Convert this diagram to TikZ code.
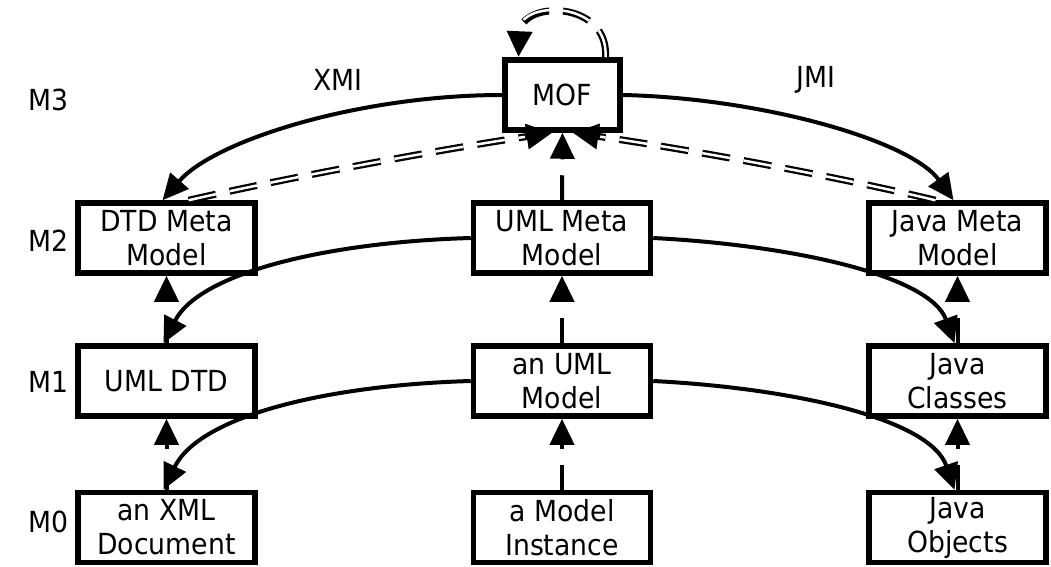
\documentclass[tikz,border=0pt]{standalone}
\usepackage{fontspec}
\setmainfont{DejaVu Sans}[FakeStretch=0.92]
\usetikzlibrary{arrows.meta}

\begin{document}
\begin{tikzpicture}[x=1pt,y=-1pt,
  font=\fontsize{29}{34}\selectfont,
  box/.style={draw, line width=5.5pt, minimum width=177pt, minimum height=70pt,
              align=center, inner sep=0pt},
  tip/.style={-{Triangle[length=26pt,width=24pt]}},
  link/.style={tip, line width=4pt},
  uplink/.style={tip, line width=4pt, dash pattern=on 25pt off 16pt},
  hollow/.style={line width=7pt, dash pattern=on 28pt off 14pt,
                 -{Triangle[length=26pt,width=24pt]}},
  hollowin/.style={white, line width=2.5pt, dash pattern=on 28pt off 14pt, shorten >=28pt},
  level/.style={anchor=west, inner sep=0pt}
]
\useasboundingbox (0,0) rectangle (1051,566);

% level labels
\node[level] (m3) at (28,100) {M3};
\node[level] (m2) at (28,241) {M2};
\node[level] (m1) at (28,382) {M1};
\node[level] (m0) at (28,522) {M0};

% boxes
\node[box, minimum width=115pt] (mof) at (562.5,95) {MOF};

\node[box] (dtdmm)  at (166.5,238) {DTD Meta\\Model};
\node[box] (umlmm)  at (562,238)   {UML Meta\\Model};
\node[box] (javamm) at (957.5,238) {Java Meta\\Model};

\node[box] (umldtd)   at (166.5,381) {UML DTD};
\node[box] (umlmodel) at (562,381)   {an UML\\Model};
\node[box] (javacls)  at (957.5,381) {Java\\Classes};

\node[box] (xmldoc)  at (166.5,527.5) {an XML\\Document};
\node[box] (inst)    at (562,527.5)   {a Model\\Instance};
\node[box] (javaobj) at (957.5,527.5) {Java\\Objects};

% heavier top edge of the M2 boxes
\foreach \b in {dtdmm,umlmm,javamm}
  \draw[line width=6pt] ([yshift=-3pt]\b.north west) -- ([yshift=-3pt]\b.north east);

% XMI and JMI mappings
\draw[link] (mof.west) .. controls (360,95) and (215,140) .. ([xshift=-4pt]dtdmm.north);
\draw[link] (mof.east) .. controls (760,98) and (910,140) .. ([xshift=-4pt]javamm.north);
\node (xmi) at (338,80) {XMI};
\node (jmi) at (816,80) {JMI};

% instance-of relations towards MOF
\draw[hollow] ([xshift=22pt]dtdmm.north) .. controls (300,175) and (450,148) .. ([xshift=-10pt]mof.south);
\draw[hollowin] ([xshift=22pt]dtdmm.north) .. controls (300,175) and (450,148) .. ([xshift=-10pt]mof.south);
\draw[hollow] ([xshift=-22pt]javamm.north) .. controls (830,175) and (680,148) .. ([xshift=10pt]mof.south);
\draw[hollowin] ([xshift=-22pt]javamm.north) .. controls (830,175) and (680,148) .. ([xshift=10pt]mof.south);
\draw[uplink] (umlmm.north) -- (mof.south);

% MOF describes itself
\draw[hollow] ([xshift=43pt]mof.north) .. controls (609,0) and (521,0) .. ([xshift=-44pt]mof.north);
\draw[hollowin] ([xshift=43pt]mof.north) .. controls (609,0) and (521,0) .. ([xshift=-44pt]mof.north);

% vertical instance-of relations
\draw[uplink] (umldtd.north) -- (dtdmm.south);
\draw[uplink] (xmldoc.north) -- (umldtd.south);
\draw[uplink] (umlmodel.north) -- (umlmm.south);
\draw[uplink] (inst.north) -- (umlmodel.south);
\draw[uplink] (javacls.north) -- (javamm.south);
\draw[uplink] (javaobj.north) -- (javacls.south);

% mappings from the UML column
\draw[link] (umlmm.west) .. controls (330,242) and (200,272) .. ([xshift=-3pt]umldtd.north);
\draw[link] (umlmm.east) .. controls (790,245) and (930,275) .. ([xshift=-3pt]javacls.north);
\draw[link] (umlmodel.west) .. controls (330,385) and (200,415) .. ([xshift=-3pt]xmldoc.north);
\draw[link] (umlmodel.east) .. controls (790,388) and (930,418) .. ([xshift=-3pt]javaobj.north);
\end{tikzpicture}
\end{document}
